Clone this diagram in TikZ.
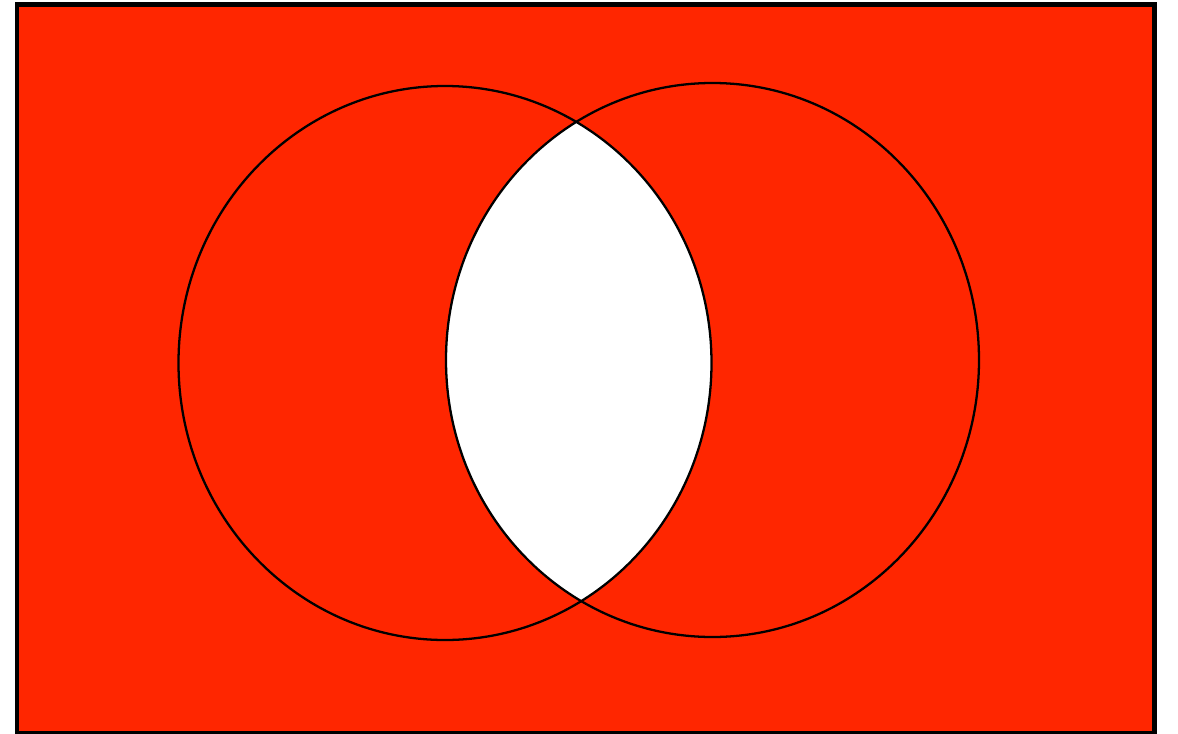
\documentclass[tikz,border=0pt]{standalone}
\usepackage{xcolor}
\usepackage{tikz}
\definecolor{vennred}{RGB}{255, 38, 0}

\begin{document}
\begin{tikzpicture}[
    x=0.02cm, y=-0.02cm,
    universe/.style={draw=black, fill=vennred, line width=2.8pt},
    setline/.style={draw=black, line width=1.3pt},
    setA/.style={x radius=266.5, y radius=277},
]
    \useasboundingbox (0, 0) rectangle (1178, 734);
    \path[universe] (17, 4.5) rectangle (1154.5, 733);

    % the overlap A cap B is left blank
    \begin{scope}
        \clip (445, 363) ellipse [setA];
        \fill[white] (712.5, 360) ellipse [setA];
    \end{scope}

    \path[setline] (445, 363) ellipse [setA];
    \path[setline] (712.5, 360) ellipse [setA];
\end{tikzpicture}
\end{document}
